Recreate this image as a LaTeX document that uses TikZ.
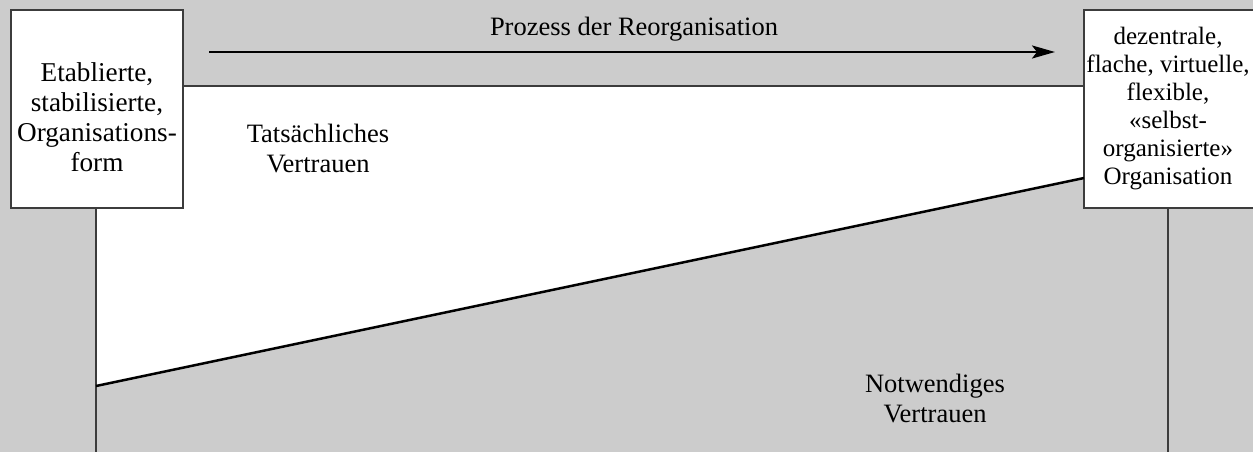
\documentclass[tikz,border=0pt]{standalone}
\usepackage{fontspec}
\setmainfont{Liberation Serif}
\usetikzlibrary{arrows.meta}
\definecolor{bggray}{RGB}{204,204,204}
\definecolor{edgegray}{RGB}{60,60,60}
\tikzset{
  lbl/.style={align=center, inner sep=0pt, font=\fontsize{26.5}{30}\selectfont},
  boxstyle/.style={draw=edgegray, line width=1.2pt, fill=white, inner sep=0pt},
  thinline/.style={draw=edgegray, line width=1.2pt},
  thickline/.style={draw=black, line width=2.5pt},
}
\begin{document}
\begin{tikzpicture}[x=1pt, y=-1pt]
\useasboundingbox (0,0) rectangle (1253,452);
\fill[bggray] (0,0) rectangle (1253,452);
% white area of actual trust
\coordinate (wtl) at (96,86);
\coordinate (wtr) at (1084,86);
\coordinate (lineR) at (1084,178);
\coordinate (lineL) at (96,386);
\coordinate (lbot) at (96,452);
\coordinate (rbot) at (1168,452);
\fill[white] (wtl) -- (wtr) -- (lineR) -- (lineL) -- cycle;
\draw[thinline] (wtl) -- (wtr);
% boxes
\node[boxstyle, minimum width=172pt, minimum height=198pt] (lbox) at (97,109) {};
\node[lbl, font=\fontsize{27.2}{30}\selectfont] (ltext) at (97,117) {Etablierte,\\stabilisierte,\\Organisations-\\form};
\node[boxstyle, minimum width=180pt, minimum height=198pt] (rbox) at (1174,109) {};
\node[lbl, font=\fontsize{25}{28}\selectfont] (rtext) at (1168,109) {dezentrale,\\flache, virtuelle,\\flexible,\\«selbst-\\organisierte»\\Organisation};
% vertical lines
\draw[thinline] (lbox.south -| lbot) -- (lbot);
\draw[thinline] (rbox.south -| rbot) -- (rbot);
% trust boundary
\draw[thickline] (lineL) -- (lineR);
% process arrow
\coordinate (arrS) at (209,52);
\coordinate (arrE) at (1055,52);
\draw[thickline, -{Stealth[length=23pt, width=13pt, inset=5pt]}] (arrS) -- (arrE);
\node[lbl] (proc) at (634,29) {Prozess der Reorganisation};
\node[lbl] (tats) at (318,149) {Tatsächliches\\Vertrauen};
\node[lbl] (notw) at (935,399) {Notwendiges\\Vertrauen};
\end{tikzpicture}
\end{document}
